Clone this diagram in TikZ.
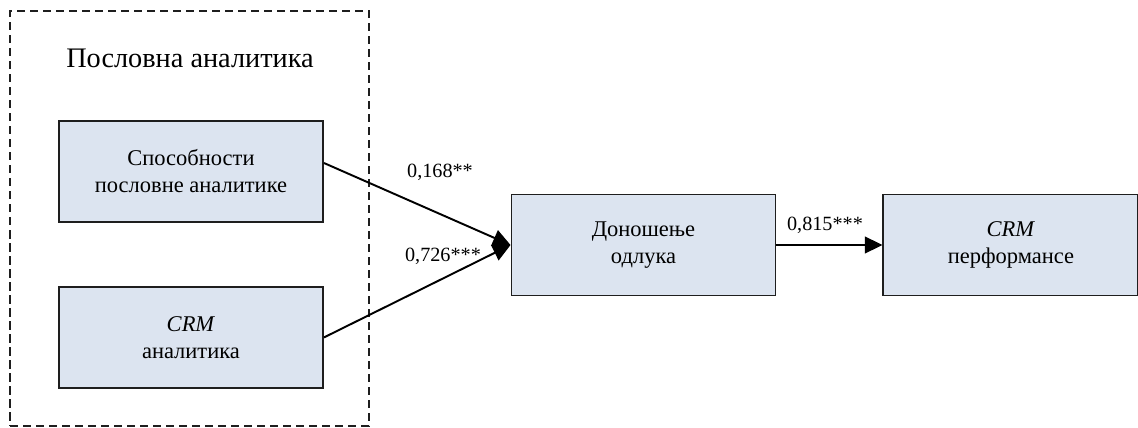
\documentclass[tikz,border=0pt]{standalone}
\usepackage{fontspec}
\setmainfont{Liberation Serif}
\usepackage{xcolor}
\usepackage{tikz}
\usetikzlibrary{arrows.meta, positioning}
\definecolor{boxfill}{RGB}{220,228,240}
\definecolor{edge}{RGB}{30,30,30}

\begin{document}
\begin{tikzpicture}[
  block/.style={rectangle, draw=edge, line width=1.1pt, fill=boxfill, minimum width=5.28cm, minimum height=2.02cm, align=center, font=\fontsize{12.8}{15.3}\selectfont},
  group/.style={rectangle, draw=edge, line width=0.8pt, dash pattern=on 4.6pt off 2.8pt, minimum width=7.18cm, minimum height=8.3cm},
  coef/.style={font=\fontsize{11.5}{13}\selectfont},
  link/.style={->, line width=1.1pt, draw=black},
  >={Triangle[length=10pt, width=9.5pt]},
  node distance=1.26cm
]
  \useasboundingbox (0,0) rectangle (22.76,8.54);
  \node[group] (frame) at (3.79,4.17) {};
  \node[font=\fontsize{16.1}{19}\selectfont] (title) at (3.8,7.38) {Пословна аналитика};

  \node[block] (ability) at (3.82,5.11) {Способности\\пословне аналитике};
  \node[block, below=of ability] (crm) {\textit{CRM}\\аналитика};
  \node[block] (decision) at (12.87,3.64) {Доношење\\одлука};
  \node[block, minimum width=5.1cm, right=2.12cm of decision] (perf) {\textit{CRM}\\перформансе};

  \draw[link] ([yshift=0.17cm]ability.east) -- (decision.west);
  \draw[link] (crm.east) -- (decision.west);
  \draw[link] (decision.east) -- (perf.west);

  \node[coef] (c1) at (8.8,5.1) {0,168**};
  \node[coef] (c2) at (8.86,3.42) {0,726***};
  \node[coef] (c3) at (16.5,4.04) {0,815***};
\end{tikzpicture}
\end{document}
